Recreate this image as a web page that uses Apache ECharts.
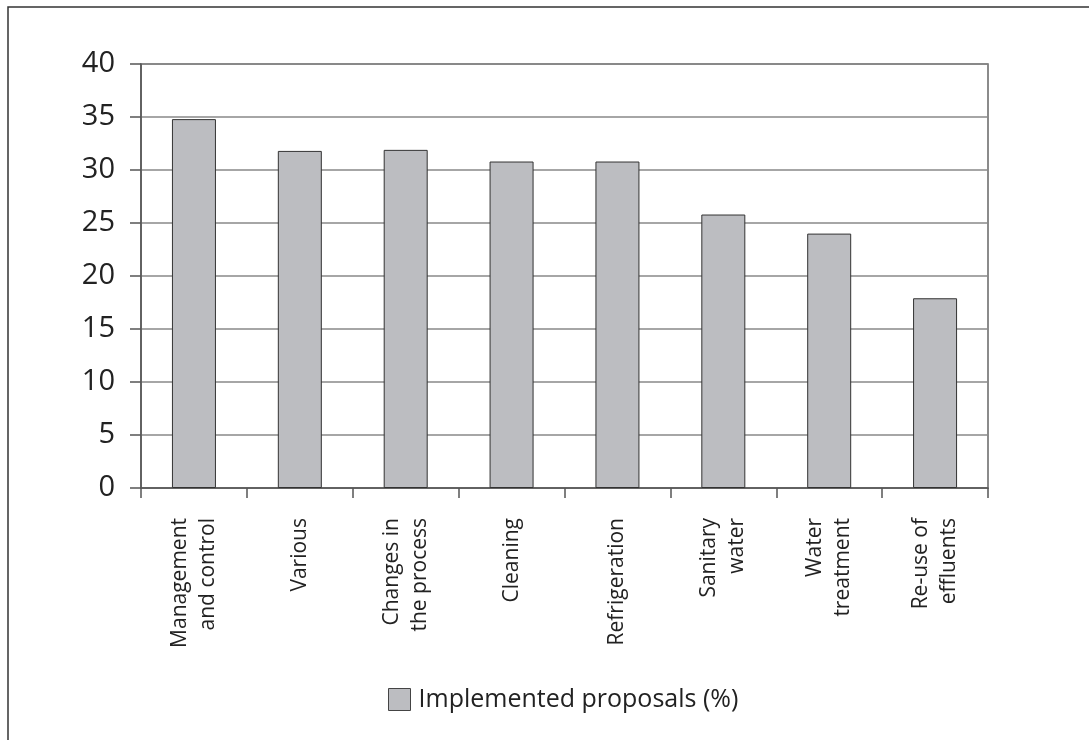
<!DOCTYPE html>
<html>
<head>
<meta charset="utf-8">
<title>Implemented proposals</title>
<script src="https://cdn.jsdelivr.net/npm/echarts@6/dist/echarts.min.js"></script>
<style>
  html, body { margin: 0; padding: 0; background: #fff; }
  #chart { width: 1089px; height: 740px; }
</style>
</head>
<body>
<div id="chart"></div>
<script>
// Measure categories
const categories = [
  'Management\nand control',
  'Various',
  'Changes in\nthe process',
  'Cleaning',
  'Refrigeration',
  'Sanitary\nwater',
  'Water\ntreatment',
  'Re-use of\neffluents'
];

// Share of proposals implemented per category (%)
const implemented = [34.8, 31.8, 31.9, 30.8, 30.8, 25.8, 24.0, 17.9];

// Value axis ticks
const yTicks = [0, 5, 10, 15, 20, 25, 30, 35, 40];

const seriesName = 'Implemented proposals (%)';
const FONT = '"Open Sans", "Liberation Sans", sans-serif';

const chart = echarts.init(document.getElementById('chart'), null, { renderer: 'canvas' });

chart.setOption({
  animation: false,
  backgroundColor: '#ffffff',
  textStyle: { fontFamily: FONT, color: '#222' },
  grid: {
    left: 141, right: 101, top: 64, bottom: 252,
    show: true, borderColor: '#666', borderWidth: 1.5,
    backgroundColor: 'transparent'
  },
  legend: {
    left: 383,
    top: 682,
    itemWidth: 22,
    itemHeight: 22,
    itemGap: 10,
    icon: 'rect',
    textStyle: { fontFamily: FONT, fontSize: 25, color: '#222', padding: [0, 0, 0, 3] },
    data: [{ name: seriesName, itemStyle: { color: '#bcbdc1', borderColor: '#444', borderWidth: 1 } }]
  },
  xAxis: {
    type: 'category',
    data: categories,
    boundaryGap: true,
    axisLine: { show: true, lineStyle: { color: '#555', width: 1.5 } },
    axisTick: { show: true, length: 10, alignWithLabel: false, lineStyle: { color: '#555', width: 1.5 } },
    axisLabel: {
      interval: 0,
      rotate: 90,
      margin: 30,
      fontFamily: FONT,
      fontSize: 21,
      lineHeight: 28,
      color: '#222'
    },
    splitLine: { show: false }
  },
  yAxis: {
    type: 'value',
    min: yTicks[0],
    max: yTicks[yTicks.length - 1],
    interval: yTicks[1] - yTicks[0],
    axisLine: { show: true, lineStyle: { color: '#555', width: 1.5 } },
    axisTick: { show: true, length: 11, inside: false, lineStyle: { color: '#555', width: 1.5 } },
    axisLabel: { margin: 26, fontFamily: FONT, fontSize: 29, color: '#222' },
    splitLine: { show: true, lineStyle: { color: '#888', width: 1.5 } }
  },
  series: [{
    name: seriesName,
    type: 'bar',
    data: implemented,
    barWidth: 44,
    itemStyle: { color: '#bcbdc1', borderColor: '#333', borderWidth: 1 }
  }],
  graphic: [
    {
      type: 'polyline',
      silent: true,
      shape: { points: [[8, 740], [8, 7], [1089, 7]] },
      style: { stroke: '#333', lineWidth: 1.5, fill: null }
    }
  ]
});
</script>
</body>
</html>
